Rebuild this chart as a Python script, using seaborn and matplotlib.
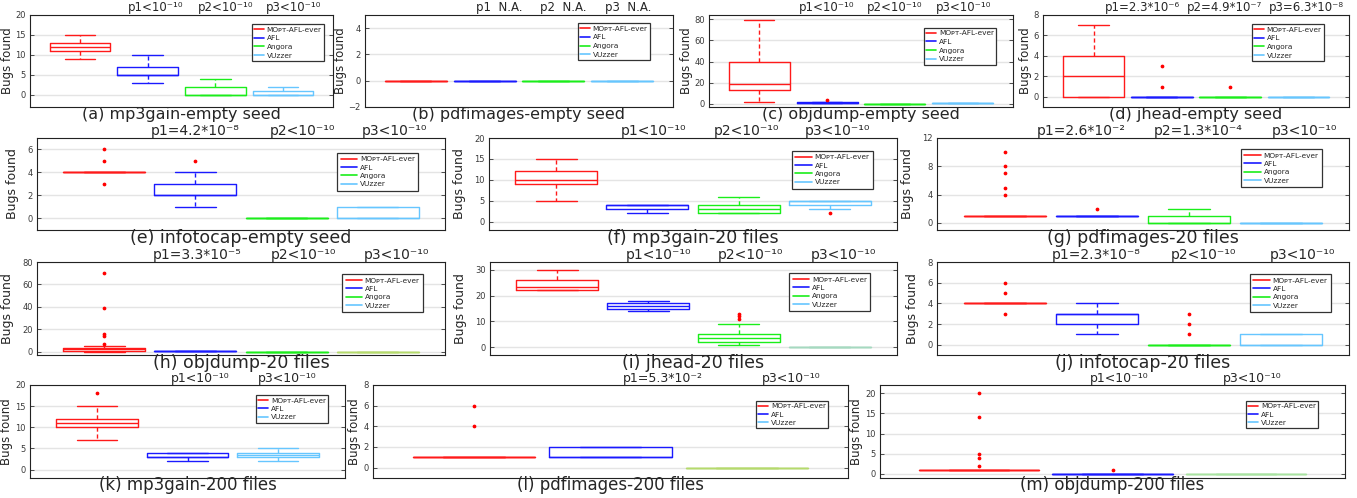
import numpy as np
import pandas as pd
import matplotlib
matplotlib.use("Agg")
import matplotlib.pyplot as plt
from matplotlib.lines import Line2D
import seaborn as sns

# ---------------- data (bugs found per run) ----------------
mp3gain_empty = {
    "MOpt-AFL-ever": [9, 10, 11, 12, 12, 12, 13, 14, 15],
    "AFL": [3, 4, 5, 5, 5, 6, 7, 8, 10],
    "Angora": [0, 0, 0, 0, 0, 1, 2, 3, 4],
    "VUzzer": [0, 0, 0, 0, 0, 1, 1, 2, 2],
}
pdfimages_empty = {
    "MOpt-AFL-ever": [0, 0, 0, 0, 0],
    "AFL": [0, 0, 0, 0, 0],
    "Angora": [0, 0, 0, 0, 0],
    "VUzzer": [0, 0, 0, 0, 0],
}
objdump_empty = {
    "MOpt-AFL-ever": [2, 8, 13, 16, 19, 30, 40, 60, 79],
    "AFL": [1, 1, 1, 1, 1, 2, 2, 2, 4],
    "Angora": [0, 0, 0, 0, 0, 0, 0, 0, 0],
    "VUzzer": [1, 1, 1, 1, 1, 1, 1, 1, 1],
}
jhead_empty = {
    "MOpt-AFL-ever": [0, 0, 0, 1, 2, 3, 4, 5, 7],
    "AFL": [0, 0, 0, 0, 0, 0, 0, 1, 3],
    "Angora": [0, 0, 0, 0, 0, 0, 0, 0, 1],
    "VUzzer": [0, 0, 0, 0, 0, 0, 0, 0, 0],
}
infotocap_empty = {
    "MOpt-AFL-ever": [3, 4, 4, 4, 4, 4, 4, 4, 4, 5, 6],
    "AFL": [1, 2, 2, 2, 2, 3, 3, 4, 5],
    "Angora": [0, 0, 0, 0, 0, 0, 0, 0, 0],
    "VUzzer": [0, 0, 0, 0, 0, 1, 1, 1, 1],
}
mp3gain_20 = {
    "MOpt-AFL-ever": [5, 8, 9, 9, 10, 11, 12, 13, 15],
    "AFL": [2, 3, 3, 3, 4, 4, 4, 4, 4],
    "Angora": [2, 2, 2, 2, 3, 3, 4, 5, 6],
    "VUzzer": [2, 3, 4, 4, 5, 5, 5, 5, 5],
}
pdfimages_20 = {
    "MOpt-AFL-ever": [1] * 16 + [4, 5, 7, 8, 10],
    "AFL": [1, 1, 1, 1, 1, 1, 1, 1, 1, 2],
    "Angora": [0, 0, 0, 0, 0, 1, 1, 1, 2],
    "VUzzer": [0, 0, 0, 0, 0, 0, 0, 0, 0],
}
objdump_20 = {
    "MOpt-AFL-ever": [0, 1, 1, 1, 1, 1, 1, 2, 2, 2, 2, 2, 2, 3, 3, 3, 3, 3, 3,
                      5, 7, 14, 16, 39, 70],
    "AFL": [1, 1, 1, 1, 1, 1, 1, 1, 1],
    "Angora": [0, 0, 0, 0, 0, 0, 0, 0, 0],
    "VUzzer": [0, 0, 0, 0, 0, 0, 0, 0, 0],
}
jhead_20 = {
    "MOpt-AFL-ever": [22, 22, 22, 23, 23, 24, 26, 26, 28, 30],
    "AFL": [14, 15, 15, 16, 16, 16, 17, 17, 18],
    "Angora": [1, 2, 2, 2, 2, 2, 3, 3, 3, 4, 4, 4, 5, 5, 9, 11, 12, 13],
    "VUzzer": [0, 0, 0, 0, 0, 0, 0, 0, 0],
}
infotocap_20 = {
    "MOpt-AFL-ever": [3, 4, 4, 4, 4, 4, 4, 4, 4, 5, 6],
    "AFL": [1, 2, 2, 2, 3, 3, 3, 4, 4],
    "Angora": [0] * 13 + [1, 2, 3],
    "VUzzer": [0, 0, 0, 0, 0, 1, 1, 1, 1],
}
mp3gain_200 = {
    "MOpt-AFL-ever": [7, 10, 10, 10, 11, 11, 12, 12, 15, 18],
    "AFL": [2, 3, 3, 3, 3, 4, 4, 4, 4],
    "VUzzer": [2, 3, 3, 3, 3, 4, 4, 4, 4, 5],
}
pdfimages_200 = {
    "MOpt-AFL-ever": [1] * 14 + [4, 6],
    "AFL": [1, 1, 1, 1, 1, 2, 2, 2, 2],
    "VUzzer": [0, 0, 0, 0, 0, 0, 0, 0, 0],
}
objdump_200 = {
    "MOpt-AFL-ever": [1] * 16 + [2, 4, 5, 14, 20],
    "AFL": [0, 0, 0, 0, 0, 0, 0, 0, 0, 1],
    "VUzzer": [0, 0, 0, 0, 0, 0, 0, 0, 0],
}

panel_data = [mp3gain_empty, pdfimages_empty, objdump_empty, jhead_empty,
              infotocap_empty, mp3gain_20, pdfimages_20,
              objdump_20, jhead_20, infotocap_20,
              mp3gain_200, pdfimages_200, objdump_200]

panel_titles = ["(a) mp3gain-empty seed", "(b) pdfimages-empty seed",
                "(c) objdump-empty seed", "(d) jhead-empty seed",
                "(e) infotocap-empty seed", "(f) mp3gain-20 files",
                "(g) pdfimages-20 files", "(h) objdump-20 files",
                "(i) jhead-20 files", "(j) infotocap-20 files",
                "(k) mp3gain-200 files", "(l) pdfimages-200 files",
                "(m) objdump-200 files"]

LT = "<10\u207b\u00b9\u2070"
p_labels = [
    ["p1" + LT, "p2" + LT, "p3" + LT],
    ["p1  N.A.", "p2  N.A.", "p3  N.A."],
    ["p1" + LT, "p2" + LT, "p3" + LT],
    ["p1=2.3*10\u207b\u2076", "p2=4.9*10\u207b\u2077", "p3=6.3*10\u207b\u2078"],
    ["p1=4.2*10\u207b\u2078", "p2" + LT, "p3" + LT],
    ["p1" + LT, "p2" + LT, "p3" + LT],
    ["p1=2.6*10\u207b\u00b2", "p2=1.3*10\u207b\u2074", "p3" + LT],
    ["p1=3.3*10\u207b\u2075", "p2" + LT, "p3" + LT],
    ["p1" + LT, "p2" + LT, "p3" + LT],
    ["p1=2.3*10\u207b\u2078", "p2" + LT, "p3" + LT],
    ["p1" + LT, "p3" + LT],
    ["p1=5.3*10\u207b\u00b2", "p3" + LT],
    ["p1" + LT, "p3" + LT],
]

legend_names = {"MOpt-AFL-ever": "MO\u1d18\u1d1b-AFL-ever", "AFL": "AFL",
                "Angora": "Angora", "VUzzer": "VUzzer"}

# ---------------- styling ----------------
COLORS = {"MOpt-AFL-ever": "#ff1a1a", "AFL": "#1a1aff",
          "Angora": "#1aee1a", "VUzzer": "#66c6ff"}

# rect (left, top, right, bottom) px, ylim, yticks, row style, p-text x (axes frac),
# legend anchor (axes frac, upper right corner)
layout = [
    ((30, 15, 333, 107), (-3, 20), [0, 5, 10, 15, 20], 0, [0.416, 0.644, 0.871], (0.970, 0.90)),
    ((365, 15, 673, 107), (-2, 5), [-2, 0, 2, 4], 0, [0.435, 0.643, 0.854], (0.925, 0.91)),
    ((709, 15, 1013, 107), (-3, 84), [0, 20, 40, 60, 80], 0, [0.388, 0.612, 0.836], (0.944, 0.86)),
    ((1043, 15, 1349, 107), (-1, 8), [0, 2, 4, 6, 8], 0, [0.324, 0.592, 0.860], (0.918, 0.90)),
    ((37, 138, 445, 230), (-1, 7), [0, 2, 4, 6], 1, [0.387, 0.650, 0.877], (0.934, 0.84)),
    ((489, 138, 897, 230), (-2, 20), [0, 5, 10, 15, 20], 1, [0.402, 0.630, 0.855], (0.941, 0.86)),
    ((937, 138, 1349, 230), (-1, 12), [0, 4, 8, 12], 1, [0.350, 0.634, 0.893], (0.934, 0.88)),
    ((37, 262, 445, 355), (-3, 80), [0, 20, 40, 60, 80], 1, [0.392, 0.652, 0.882], (0.946, 0.87)),
    ((490, 262, 897, 355), (-3, 33), [0, 10, 20, 30], 1, [0.415, 0.639, 0.868], (0.934, 0.88)),
    ((937, 262, 1349, 355), (-1, 8), [0, 2, 4, 6, 8], 1, [0.386, 0.646, 0.886], (0.956, 0.87)),
    ((30, 385, 345, 478), (-2, 20), [0, 5, 10, 15, 20], 2, [0.540, 0.816], (0.946, 0.89)),
    ((373, 385, 848, 478), (-1, 8), [0, 2, 4, 6, 8], 2, [0.610, 0.880], (0.958, 0.83)),
    ((880, 385, 1345, 478), (-1, 22), [0, 5, 10, 15, 20], 2, [0.515, 0.800], (0.942, 0.83)),
]
row_style = [
    dict(title=11.5, t_off=12, p=8.5, p_off=4, leg=5.3, ls=0.35, hl=1.3, bp=0.3,
         ylab=8.5, ypad=1, tick=6),
    dict(title=12.5, t_off=13, p=10, p_off=3, leg=5.3, ls=0.3, hl=2.2, bp=0.45,
         ylab=9, ypad=6, tick=6),
    dict(title=12, t_off=12, p=9, p_off=3, leg=5.3, ls=0.3, hl=1.3, bp=0.3,
         ylab=8.5, ypad=1.5, tick=6),
]
flat_override = {7: "#b5da6c", 8: "#a5d9c0", 11: "#b5da6c", 12: "#a8e3a0"}

sns.set_style("white")
plt.rcParams["font.family"] = ["DejaVu Sans"]

W, H = 1357, 498
fig = plt.figure(figsize=(W / 100, H / 100), dpi=100)
PT = 0.72  # points per pixel at 100 dpi

for idx, (data, title, plabs, spec) in enumerate(
        zip(panel_data, panel_titles, p_labels, layout)):
    rect, ylim, yticks, rs, px, anchor = spec
    st = row_style[rs]
    t_off = st["t_off"] - (0.5 if rs == 1 and idx >= 7 else 0)
    l, t, r, b = rect
    ax = fig.add_axes([l / W, 1 - b / H, (r - l) / W, (b - t) / H])
    order = list(data.keys())
    df = pd.DataFrame({
        "fuzzer": np.repeat(order, [len(data[k]) for k in order]),
        "bugs": np.concatenate([np.asarray(data[k], float) for k in order]),
    })
    pal = {k: COLORS[k] for k in order}
    if idx in flat_override:
        pal["VUzzer"] = flat_override[idx]
    sns.boxplot(data=df, x="fuzzer", y="bugs", hue="fuzzer", order=order,
                hue_order=order, palette=pal, fill=False, width=0.9,
                whis=1.5, linewidth=1.0, legend=False, ax=ax,
                whiskerprops={"linestyle": (0, (3, 2))},
                flierprops={"marker": "o", "markerfacecolor": "red",
                            "markeredgecolor": "red", "markersize": 1.7},
                capwidths=0.45)
    n = len(order)
    ax.set_xlim(-0.74, n - 0.26)
    ax.set_ylim(*ylim)
    ax.set_yticks(yticks)
    ax.set_xticks([])
    ax.set_xlabel("")
    ax.set_axisbelow(True)
    ax.yaxis.grid(True, color="#e4e4e4", linewidth=1.0)
    ax.xaxis.grid(False)
    for s in ax.spines.values():
        s.set_visible(True)
        s.set_color("#222222")
        s.set_linewidth(0.8)
    ax.tick_params(axis="y", direction="in", left=True, right=True,
                   length=3, width=0.6, labelsize=st["tick"],
                   labelcolor="#3a3a3a", color="#333333", pad=3)
    ax.set_ylabel("Bugs found", fontsize=st["ylab"],
                  family=["Liberation Sans Narrow", "DejaVu Sans"],
                  labelpad=st["ypad"])

    ax.annotate(title, xy=(0.5, 0), xycoords="axes fraction",
                xytext=(0, -t_off * PT), textcoords="offset points",
                ha="center", va="baseline", fontsize=st["title"])
    for x, txt in zip(px, plabs):
        ax.annotate(txt, xy=(x, 1), xycoords="axes fraction",
                    xytext=(0, st["p_off"] * PT), textcoords="offset points",
                    ha="center", va="baseline", fontsize=st["p"])

    handles = [Line2D([0], [0], color=COLORS[k], lw=1.2) for k in order]
    leg = ax.legend(handles, [legend_names[k] for k in order],
                    loc="upper right", bbox_to_anchor=anchor,
                    fontsize=st["leg"], frameon=True, fancybox=False,
                    framealpha=1, edgecolor="#333333", handlelength=st["hl"],
                    handletextpad=0.4, borderpad=st["bp"],
                    labelspacing=st["ls"], borderaxespad=0)
    leg.get_frame().set_linewidth(0.9)

fig.savefig("out.png", dpi=100)
